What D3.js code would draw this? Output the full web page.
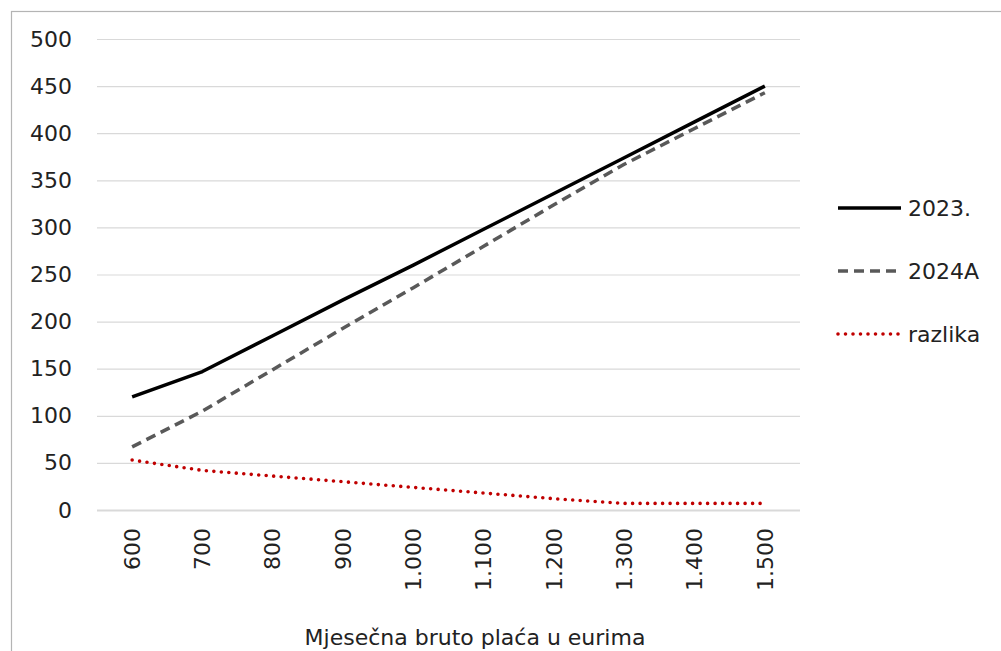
<!doctype html>
<html>
<head>
  <meta charset="UTF-8">
  <title>Mjesečna bruto plaća</title>
  <script src="https://d3js.org/d3.v7.min.js"></script>
  <style>
    body { margin: 0; background: #fff; }
    text { font-family: "DejaVu Sans", sans-serif; fill: #222; }
  </style>
</head>
<body>
<div id="svg_area"></div>
<script>
// categories and series
var placa = ["600", "700", "800", "900", "1.000", "1.100", "1.200", "1.300", "1.400", "1.500"];
var god2023 = [120, 147, 185, 223, 260, 298, 336, 374, 412, 450];
var god2024A = [67, 105, 149, 193, 236, 280, 324, 367, 405, 443];
var razlika = [53, 42, 36, 30, 24, 18, 12, 7, 7, 7];
var yTicks = [0, 50, 100, 150, 200, 250, 300, 350, 400, 450, 500];

var series = [
  { name: "2023.", values: god2023, color: "#000000", dash: null, cap: "butt" },
  { name: "2024A", values: god2024A, color: "#595959", dash: "10,6", cap: "butt" },
  { name: "razlika", values: razlika, color: "#c00000", dash: "0,7.5", cap: "round" }
];

var svg = d3.select("#svg_area").append("svg")
    .attr("width", 1001)
    .attr("height", 651);

// outer frame (right and bottom run off the picture)
svg.append("rect")
    .attr("x", 11.5).attr("y", 11.5)
    .attr("width", 1010).attr("height", 700)
    .attr("fill", "none")
    .attr("stroke", "#b4b4b4")
    .attr("stroke-width", 1.2);

var plotLeft = 97, plotRight = 800, plotTop = 39, plotBottom = 510;

var xScale = d3.scaleBand()
    .domain(placa)
    .range([plotLeft, plotRight]);

var yScale = d3.scaleLinear()
    .domain([0, 500])
    .range([plotBottom, plotTop]);

// gridlines + y labels
var yAxis = d3.axisLeft(yScale)
    .tickValues(yTicks)
    .tickSize(-(plotRight - plotLeft))
    .tickPadding(25);

var gy = svg.append("g")
    .attr("transform", "translate(" + plotLeft + ",0)")
    .call(yAxis);
gy.select(".domain").remove();
gy.selectAll("line").attr("stroke", "#d9d9d9").attr("stroke-width", 1.2);
gy.selectAll("text")
    .attr("font-size", "22px")
    .attr("font-family", "DejaVu Sans")
    .attr("fill", "#222");

// baseline
gy.selectAll(".tick").filter(function (d) { return d === 0; })
    .select("line").attr("stroke-width", 2);

// x axis labels
var xAxis = d3.axisBottom(xScale).tickSize(0);
var gx = svg.append("g")
    .attr("transform", "translate(0," + plotBottom + ")")
    .call(xAxis);
gx.select(".domain").remove();
gx.selectAll("text")
    .attr("font-size", "22px")
    .attr("font-family", "DejaVu Sans")
    .attr("fill", "#222")
    .attr("text-anchor", "end")
    .attr("dy", "0.35em")
    .attr("transform", "translate(0,18) rotate(-90)")
    .attr("x", 0)
    .attr("y", 0);

// lines
var line = d3.line()
    .x(function (d, i) { return xScale(placa[i]) + xScale.bandwidth() / 2; })
    .y(function (d) { return yScale(d); });

svg.selectAll(".serie")
    .data(series)
    .enter()
    .append("path")
    .attr("class", "serie")
    .attr("d", function (s) { return line(s.values); })
    .attr("fill", "none")
    .attr("stroke", function (s) { return s.color; })
    .attr("stroke-width", function (s) { return s.cap === "round" ? 3.6 : 3.5; })
    .attr("stroke-dasharray", function (s) { return s.dash; })
    .attr("stroke-linecap", function (s) { return s.cap; })
    .attr("stroke-linejoin", "round");

// legend
var legend = svg.selectAll(".leg")
    .data(series)
    .enter()
    .append("g")
    .attr("class", "leg")
    .attr("transform", function (s, i) { return "translate(838," + (208 + i * 63) + ")"; });

legend.append("line")
    .attr("x1", 0).attr("x2", 63)
    .attr("y1", 0).attr("y2", 0)
    .attr("stroke", function (s) { return s.color; })
    .attr("stroke-width", function (s) { return s.cap === "round" ? 3.6 : 3.5; })
    .attr("stroke-dasharray", function (s) { return s.dash; })
    .attr("stroke-linecap", function (s) { return s.cap; });

legend.append("text")
    .attr("x", 70)
    .attr("dy", "0.35em")
    .attr("font-size", "22px")
    .text(function (s) { return s.name; });

// axis title (runs into the bottom edge, as in the original)
svg.append("text")
    .attr("x", 475)
    .attr("y", 645)
    .attr("text-anchor", "middle")
    .attr("font-size", "22px")
    .text("Mjesečna bruto plaća u eurima");
</script>
</body>
</html>
